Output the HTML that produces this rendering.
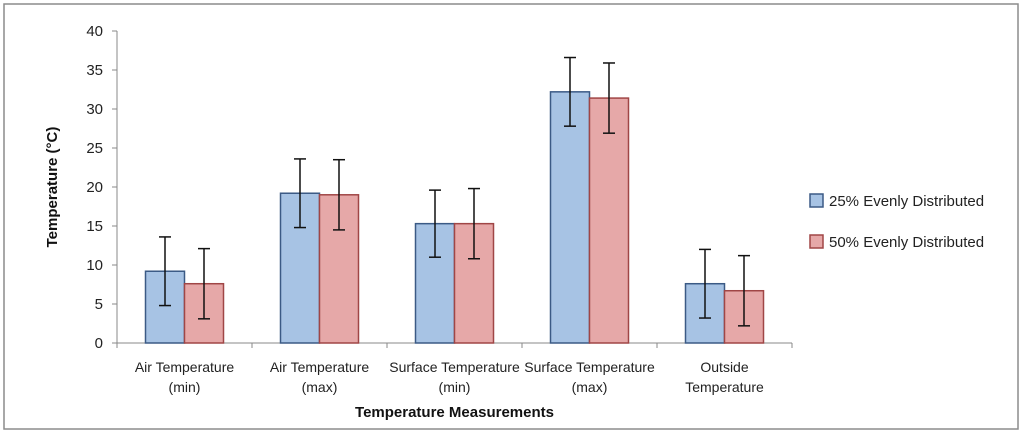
<!DOCTYPE html>
<html><head><meta charset="utf-8"><style>
body{margin:0;background:#fff;}
svg{display:block;font-family:"Liberation Sans",sans-serif;}
</style></head><body>
<svg id="c" width="1024" height="439">
<rect x="4" y="4" width="1014" height="425" fill="#fff" stroke="#8c8c8c" stroke-width="1.5"/>
<g id="g"></g>
</svg>
<script>
const categories=[["Air Temperature","(min)"],["Air Temperature","(max)"],["Surface Temperature","(min)"],["Surface Temperature","(max)"],["Outside","Temperature"]];
const series25=[9.2,19.2,15.3,32.2,7.6];
const err25=[4.4,4.4,4.3,4.4,4.4];
const series50=[7.6,19.0,15.3,31.4,6.7];
const err50=[4.5,4.5,4.5,4.5,4.5];
const yTicks=[0,5,10,15,20,25,30,35,40];
const seriesNames=["25% Evenly Distributed","50% Evenly Distributed"];

const NS="http://www.w3.org/2000/svg";
const g=document.getElementById('g');
const x0=117,step=135,y0=343,yTop=31,yMax=40;
const y=v=>y0-(v/yMax)*(y0-yTop);
const cx=i=>x0+step*(i+0.5);
function mk(t,a,txt){const e=document.createElementNS(NS,t);for(const k in a)e.setAttribute(k,a[k]);if(txt!==undefined)e.textContent=txt;g.appendChild(e);return e;}
let e=mk('line',{x1:x0,y1:yTop,x2:x0,y2:y0,stroke:'#888'});


e=mk('line',{x1:x0,y1:y0,x2:x0+step*5,y2:y0,stroke:'#888'});


yTicks.forEach(t=>{
 mk('line',{x1:x0-5,x2:x0,y1:y(t),y2:y(t),stroke:'#888'});
 e=mk('text',{x:x0-14,y:y(t)+5,'text-anchor':'end','font-size':15,fill:'#222'},t);
 
 
});
for(let i=0;i<=5;i++)mk('line',{x1:x0+step*i,x2:x0+step*i,y1:y0,y2:y0+5,stroke:'#888'});
const bw=39;
const cols=[['#a7c3e4','#3b5a85'],['#e6a8a8','#a04646']];
categories.forEach((c,i)=>{
 [[series25,err25],[series50,err50]].forEach((s,k)=>{
  const bx=cx(i)-bw+k*bw,v=s[0][i],er=s[1][i];
  e=mk('rect',{x:bx,y:y(v),width:bw,height:y0-y(v),fill:cols[k][0],stroke:cols[k][1],'stroke-width':1.5});
  
  
  const mx=bx+bw/2;
  mk('line',{x1:mx,x2:mx,y1:y(v+er),y2:y(v-er),stroke:'#111','stroke-width':1.5});
  mk('line',{x1:mx-6,x2:mx+6,y1:y(v+er),y2:y(v+er),stroke:'#111','stroke-width':1.5});
  mk('line',{x1:mx-6,x2:mx+6,y1:y(v-er),y2:y(v-er),stroke:'#111','stroke-width':1.5});
 });
 c.forEach((l,j)=>{
  e=mk('text',{x:cx(i),y:372+j*20,'text-anchor':'middle','font-size':14,fill:'#222'},l);
  
  
 });
});
e=mk('text',{x:x0+step*2.5,y:417,'text-anchor':'middle','font-size':15,'font-weight':'bold',fill:'#111'},'Temperature Measurements');


e=mk('text',{x:0,y:0,'text-anchor':'middle','font-size':15,'font-weight':'bold',fill:'#111',transform:'translate(57,187) rotate(-90)'},'Temperature (°C)');


seriesNames.forEach((n,k)=>{
 const ly=201+k*41;
 e=mk('rect',{x:810,y:ly-7,width:13,height:13,fill:cols[k][0],stroke:cols[k][1],'stroke-width':1.5});
 
 
 e=mk('text',{x:829,y:ly+5,'font-size':15,fill:'#222'},n);
 
 
});
</script>
</body></html>
